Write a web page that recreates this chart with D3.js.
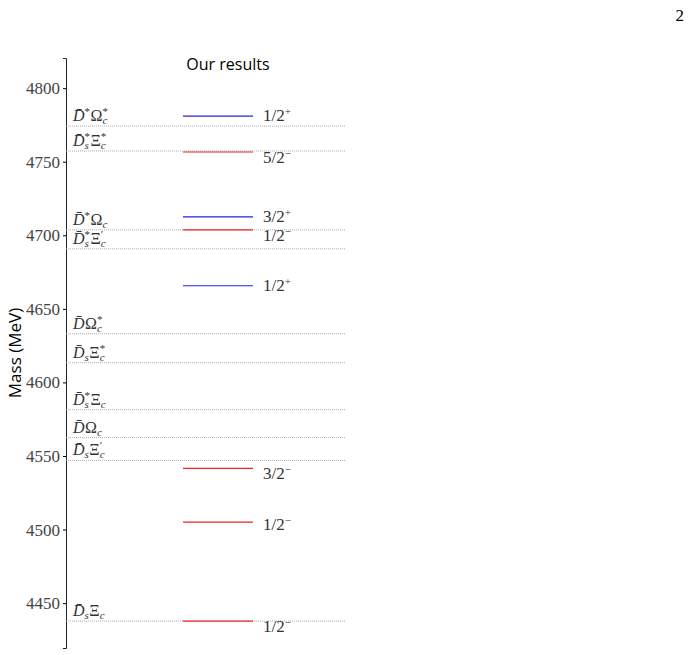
<!DOCTYPE html><html><head><meta charset="utf-8"><script src="https://cdn.jsdelivr.net/npm/d3@7"></script>
<style>body{margin:0;background:#fff}</style></head><body><svg id="c" width="690" height="655"></svg>
<script>
// each threshold: [base, sup1, sub1, greek, sub2, sup2]
const thrNames=[["D̄","*","","Ω","c","*"],["D̄","*","s","Ξ","c","*"],["D̄","*","","Ω","c",""],["D̄","*","s","Ξ","c","′"],["D̄","","","Ω","c","*"],["D̄","","s","Ξ","c","*"],["D̄","*","s","Ξ","c",""],["D̄","","","Ω","c",""],["D̄","","s","Ξ","c","′"],["D̄","","s","Ξ","c",""]];
const thrMass=[4774.2,4757.3,4703.7,4690.8,4633.1,4613.4,4581.5,4562.5,4547,4437.8];
const stateMass=[4781,4756.6,4712.5,4703.7,4665.7,4541.6,4505,4437.8];
const stateJP=["1/2+","5/2−","3/2+","1/2−","1/2+","3/2−","1/2−","1/2−"];
const stateParity=["+","-","+","-","+","-","-","-"];
const labelBelow=[0,1,0,1,0,1,0.4,1];
const yTicks=[4450,4500,4550,4600,4650,4700,4750,4800];
const svg=d3.select("#c");
const y=d3.scaleLinear().domain([4419.5,4820.5]).range([648,58]);
const serif="Liberation Serif";
svg.append("text").attr("x",684).attr("y",21).attr("text-anchor","end").attr("font-family",serif).attr("font-size",17).attr("fill","#000").text("2");
const g=svg.append("g").attr("transform","translate(66,0)");
const ax=g.append("g").call(d3.axisLeft(y).tickValues(yTicks).tickSize(3).tickFormat(d3.format("d")));
ax.attr("font-family",serif).attr("font-size",17);
ax.select(".domain").attr("stroke","#222");
ax.selectAll("text").attr("fill","#444");
svg.append("text").attr("transform","translate(21,"+y(4620)+") rotate(-90)").attr("text-anchor","middle").attr("font-family","Open Sans").attr("font-size",17).attr("fill","#000").text("Mass (MeV)");
svg.append("text").attr("x",228).attr("y",70).attr("text-anchor","middle").attr("font-family","Open Sans").attr("font-size",16).attr("fill","#000").text("Our results");
function piece(x,yb,txt,size,italic){
 const t=svg.append("text").attr("x",x).attr("y",yb).attr("font-family",serif).attr("font-size",size).attr("font-style",italic?"italic":"normal").attr("fill","#333").text(txt);
 return t.node().getComputedTextLength();
}
thrMass.forEach((m,i)=>{
 svg.append("line").attr("x1",66).attr("x2",345).attr("y1",y(m)).attr("y2",y(m)).attr("stroke","#999").attr("stroke-width",0.8).attr("stroke-dasharray","1,1");
 const n=thrNames[i]; const yb=y(m)-5; let x=73;
 x+=piece(x,yb,n[0],16,true);
 let w=0;
 if(n[1]) w=Math.max(w,piece(x,yb-6,n[1],11,false));
 if(n[2]) w=Math.max(w,piece(x,yb+3,n[2],11,true));
 x+=w+0.5;
 x+=piece(x,yb,n[3],16,false);
 w=piece(x,yb+3,n[4],11,true);
 if(n[5]) piece(x,yb-6,n[5],11,false);
});
stateMass.forEach((m,i)=>{
 svg.append("line").attr("x1",183).attr("x2",253).attr("y1",y(m)).attr("y2",y(m)).attr("stroke",stateParity[i]==="+"?"#2222dd":"#ee2222").attr("stroke-width",1.2);
 const jp=stateJP[i];
 const t=svg.append("text").attr("x",263).attr("y",y(m)+5+labelBelow[i]*6).attr("font-family",serif).attr("font-size",17).attr("fill","#333");
 t.append("tspan").text(jp.slice(0,3));
 t.append("tspan").attr("dy",-6).attr("font-size",11).text(jp.slice(3));
});
</script></body></html>
